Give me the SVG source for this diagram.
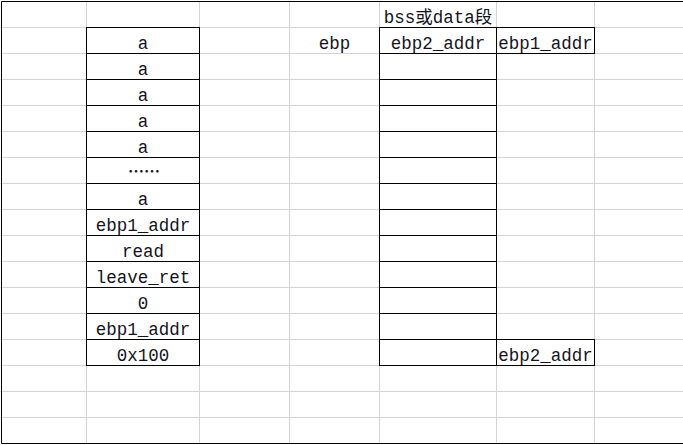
<svg xmlns="http://www.w3.org/2000/svg" width="683" height="445" viewBox="0 0 683 445">
  <style>
    .grid { stroke: #d4d4d4; stroke-width: 1; fill: none; }
    .frame { stroke: #000; stroke-width: 1; fill: none; }
    .cell { stroke: #000; stroke-width: 1; fill: #fff; }
    text { font-family: "Liberation Mono", "Noto Sans CJK SC", monospace; font-size: 17.5px; fill: #14141e; text-anchor: middle; }
    .cjk { font-family: "Noto Sans CJK SC", sans-serif; font-weight: bold; font-size: 16px; }
  </style>

  <rect x="0" y="0" width="683" height="445" fill="#fff"/>

  <!-- sheet gridlines -->
  <g id="gridlines" class="grid">
    <path d="M0 27.5H683M0 53.5H683M0 79.5H683M0 105.5H683M0 131.5H683M0 157.5H683M0 183.5H683M0 209.5H683M0 235.5H683M0 261.5H683M0 287.5H683M0 313.5H683M0 339.5H683M0 365.5H683M0 391.5H683M0 417.5H683"/>
    <path d="M86.5 1V443M199.5 1V443M289.5 1V443M379.5 1V443M496.5 1V443M594.5 1V443"/>
  </g>

  <!-- outer frame -->
  <g id="frame" class="frame">
    <path d="M1.5 1.5H683M1.5 1.5V443.5M1.5 443.5H683"/>
  </g>

  <!-- stack column -->
  <g id="stack">
    <g class="cell">
      <rect x="86.5" y="27.5" width="113" height="26"/>
      <rect x="86.5" y="53.5" width="113" height="26"/>
      <rect x="86.5" y="79.5" width="113" height="26"/>
      <rect x="86.5" y="105.5" width="113" height="26"/>
      <rect x="86.5" y="131.5" width="113" height="26"/>
      <rect x="86.5" y="157.5" width="113" height="26"/>
      <rect x="86.5" y="183.5" width="113" height="26"/>
      <rect x="86.5" y="209.5" width="113" height="26"/>
      <rect x="86.5" y="235.5" width="113" height="26"/>
      <rect x="86.5" y="261.5" width="113" height="26"/>
      <rect x="86.5" y="287.5" width="113" height="26"/>
      <rect x="86.5" y="313.5" width="113" height="26"/>
      <rect x="86.5" y="339.5" width="113" height="26"/>
    </g>
    <text x="143" y="49">a</text>
    <text x="143" y="75">a</text>
    <text x="143" y="101">a</text>
    <text x="143" y="127">a</text>
    <text x="143" y="153">a</text>
    <text x="144" y="177" class="cjk">……</text>
    <text x="143" y="205">a</text>
    <text x="143" y="231">ebp1_addr</text>
    <text x="143" y="257">read</text>
    <text x="143" y="283">leave_ret</text>
    <text x="143" y="309">0</text>
    <text x="143" y="335">ebp1_addr</text>
    <text x="143" y="361">0x100</text>
  </g>

  <!-- ebp label -->
  <g id="ebp-label">
    <text x="334.5" y="49">ebp</text>
  </g>

  <!-- bss / data segment column -->
  <g id="bss-data">
    <text x="438" y="23">bss或data段</text>
    <g class="cell">
      <rect x="379.5" y="27.5" width="117" height="26"/>
      <rect x="379.5" y="53.5" width="117" height="26"/>
      <rect x="379.5" y="79.5" width="117" height="26"/>
      <rect x="379.5" y="105.5" width="117" height="26"/>
      <rect x="379.5" y="131.5" width="117" height="26"/>
      <rect x="379.5" y="157.5" width="117" height="26"/>
      <rect x="379.5" y="183.5" width="117" height="26"/>
      <rect x="379.5" y="209.5" width="117" height="26"/>
      <rect x="379.5" y="235.5" width="117" height="26"/>
      <rect x="379.5" y="261.5" width="117" height="26"/>
      <rect x="379.5" y="287.5" width="117" height="26"/>
      <rect x="379.5" y="313.5" width="117" height="26"/>
      <rect x="379.5" y="339.5" width="117" height="26"/>
    </g>
    <text x="438" y="49">ebp2_addr</text>
  </g>

  <!-- side values -->
  <g id="ebp1-cell">
    <rect class="cell" x="496.5" y="27.5" width="98" height="26"/>
    <text x="545.5" y="49">ebp1_addr</text>
  </g>
  <g id="ebp2-cell">
    <rect class="cell" x="496.5" y="339.5" width="98" height="26"/>
    <text x="545.5" y="361">ebp2_addr</text>
  </g>
</svg>
